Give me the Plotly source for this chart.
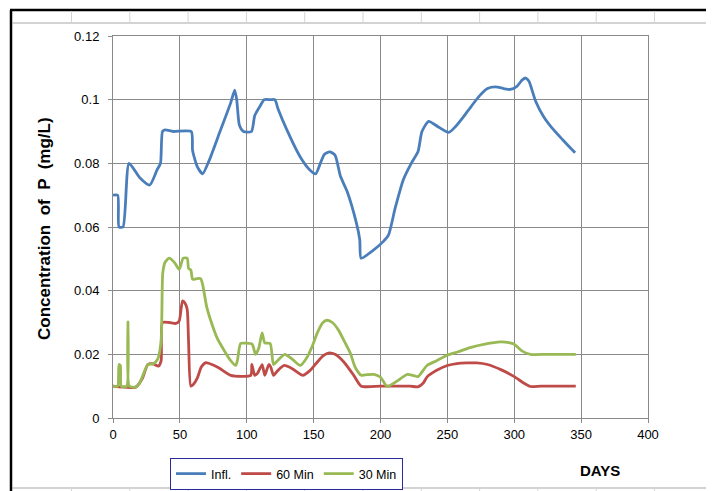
import plotly.graph_objects as go

# ---------------- data ----------------
infl_days = [0, 3.5, 4.5, 7.5, 12, 20, 27.5, 33, 35.5, 37, 39, 45, 58.5, 59.5, 63, 67, 72, 80, 88, 91,
             92.5, 94.5, 97.5, 103.5, 106, 110, 113, 118, 121, 123.5, 130, 140, 147, 151.5, 155, 158,
             162, 166, 170, 175, 182, 184.5, 185.5, 194, 202, 206, 211, 217, 223, 228, 231, 236, 243,
             251, 256, 262, 268, 274, 280, 286, 292, 297, 302, 306, 308.5, 311, 316, 322, 328, 336, 345.5]
infl_vals = [0.070, 0.070, 0.060, 0.060, 0.080, 0.0755, 0.0732, 0.078, 0.080, 0.090, 0.0905, 0.090,
             0.090, 0.084, 0.079, 0.0767, 0.081, 0.090, 0.099, 0.103, 0.100, 0.092, 0.090, 0.090,
             0.095, 0.098, 0.100, 0.100, 0.100, 0.097, 0.0905, 0.082, 0.078, 0.0767, 0.080, 0.0828,
             0.0836, 0.0826, 0.076, 0.0712, 0.0612, 0.0560, 0.0502, 0.0525, 0.0554, 0.0575, 0.066,
             0.0748, 0.080, 0.0836, 0.090, 0.0932, 0.0915, 0.0897, 0.0915, 0.0946, 0.098, 0.1012,
             0.1035, 0.1040, 0.1035, 0.1032, 0.1042, 0.1062, 0.1068, 0.1058, 0.0995, 0.0946, 0.0912,
             0.0875, 0.0833]

min60_days = [0, 17, 22, 26, 30, 34, 36, 37, 42, 47, 49.5, 52, 54, 55.5, 56.5, 58.2, 60, 63, 66, 69.5,
              74, 79, 88, 103, 103.8, 104.6, 106, 108, 111.5, 113.5, 116.5, 118, 120, 123, 128, 134,
              142, 147, 152, 157, 161, 166, 172.6, 180, 185.6, 200, 222, 228, 232, 235, 242, 250, 257,
              265, 272, 280, 290, 300, 307, 312, 320, 346]
min60_vals = [0.010, 0.0097, 0.0125, 0.0168, 0.017, 0.0163, 0.018, 0.030, 0.030, 0.0297, 0.0305,
              0.0368, 0.0360, 0.034, 0.024, 0.010, 0.0105, 0.0125, 0.016, 0.0174, 0.0168, 0.0158,
              0.0134, 0.0134, 0.0168, 0.0155, 0.0134, 0.014, 0.0168, 0.0134, 0.0168, 0.016, 0.0134,
              0.0148, 0.0165, 0.0155, 0.0134, 0.0148, 0.0172, 0.0195, 0.0204, 0.020, 0.0176, 0.0134,
              0.0100, 0.0100, 0.0100, 0.0098, 0.011, 0.013, 0.015, 0.0165, 0.0171, 0.0173, 0.0173,
              0.0168, 0.0152, 0.0130, 0.011, 0.0099, 0.0100, 0.0100]

min30_days = [0, 3.5, 4.5, 5.5, 6.2, 10.2, 11.2, 12.2, 16.9, 20, 26, 30, 33.5, 36, 37.2, 39, 42, 46,
              49.5, 52.5, 55.5, 56.5, 58.2, 59.5, 62, 65.5, 67, 70, 73, 78, 83, 88, 91.7, 93, 95.4, 99,
              104, 106.6, 109, 111.5, 113.5, 117.5, 120, 123, 128.4, 134, 140, 145, 148.7, 153, 157,
              160, 164, 168.6, 172.6, 177.6, 181, 185.6, 190, 195, 200, 205, 212, 220, 225, 228, 234.8,
              242, 249.8, 258, 267, 278, 289.6, 296, 300, 306, 312, 324, 346]
min30_vals = [0.010, 0.010, 0.0168, 0.0165, 0.010, 0.010, 0.0302, 0.0100, 0.0097, 0.011, 0.0168,
              0.017, 0.0186, 0.0244, 0.0455, 0.049, 0.0502, 0.0488, 0.0467, 0.0502, 0.0502, 0.0470,
              0.0465, 0.0436, 0.0437, 0.0438, 0.042, 0.035, 0.0307, 0.025, 0.0213, 0.018, 0.0165,
              0.018, 0.0234, 0.0235, 0.0232, 0.0200, 0.022, 0.0267, 0.0236, 0.0234, 0.0168, 0.018,
              0.0200, 0.0185, 0.0165, 0.019, 0.0223, 0.027, 0.030, 0.0307, 0.030, 0.0276, 0.0244,
              0.0202, 0.016, 0.0134, 0.0136, 0.0137, 0.0128, 0.0099, 0.0115, 0.0137, 0.0133, 0.0130,
              0.0165, 0.018, 0.0197, 0.0208, 0.0221, 0.0232, 0.0239, 0.0237, 0.0232, 0.021, 0.0200,
              0.0200, 0.0200]

series_names = ["Infl.", "60 Min", "30 Min"]
series_colors = ["#4A7EBB", "#BE4B48", "#98B954"]

x_range = [0, 400]
x_dtick = 50
y_range = [0, 0.12]
y_dtick = 0.02

# ---------------- figure ----------------
OFF = 8                      # page body margin of the browser
W, H = 714 - OFF, 491 - OFF
L, R, T, B = 113 - OFF, 66, 36 - OFF, 73
PW, PH = W - L - R, H - T - B


def px(x):
    """screen pixel x -> paper x"""
    return (x - OFF - L) / PW


def py(y):
    """screen pixel y -> paper y"""
    return (H - B - (y - OFF)) / PH


FONT = "Liberation Sans, Arial, sans-serif"

fig = go.Figure()
for name, color, xs, ys in zip(series_names, series_colors,
                               [infl_days, min60_days, min30_days],
                               [infl_vals, min60_vals, min30_vals]):
    fig.add_trace(go.Scatter(x=xs, y=ys, name=name, mode="lines",
                             line=dict(color=color, width=2.8, shape="spline", smoothing=0.6)))

grid = "#8a8a8a"
fig.update_xaxes(range=x_range, dtick=x_dtick, showgrid=True, gridcolor=grid, gridwidth=1,
                 showline=True, linecolor=grid, linewidth=1, mirror=True,
                 ticks="outside", ticklen=4, tickcolor=grid, zeroline=False,
                 tickfont=dict(family=FONT, size=13, color="#000"))
fig.update_yaxes(range=y_range, dtick=y_dtick, showgrid=True, gridcolor=grid, gridwidth=1,
                 showline=True, linecolor=grid, linewidth=1, mirror=True,
                 ticks="outside", ticklen=4, tickcolor=grid, zeroline=False,
                 ticklabelstandoff=6,
                 tickfont=dict(family=FONT, size=13, color="#000"))

# spreadsheet frame decorations
shapes = []
shapes.append(dict(type="line", xref="paper", yref="paper", x0=px(10), x1=px(714), y0=py(10), y1=py(10),
                   line=dict(color="#000", width=2.5)))
shapes.append(dict(type="line", xref="paper", yref="paper", x0=px(11), x1=px(11), y0=py(10), y1=py(491),
                   line=dict(color="#000", width=2.5)))
shapes.append(dict(type="line", xref="paper", yref="paper", x0=px(12), x1=px(714), y0=py(23), y1=py(23),
                   line=dict(color="#a8a8a8", width=1.2)))
shapes.append(dict(type="line", xref="paper", yref="paper", x0=px(12), x1=px(714), y0=py(488), y1=py(488),
                   line=dict(color="#a8a8a8", width=1.2)))
for k in range(12):
    cx = 71.5 + 58.3 * k
    shapes.append(dict(type="line", xref="paper", yref="paper", x0=px(cx), x1=px(cx), y0=py(11), y1=py(23),
                       line=dict(color="#d4d4d4", width=1)))
    shapes.append(dict(type="line", xref="paper", yref="paper", x0=px(cx), x1=px(cx), y0=py(488), y1=py(491),
                       line=dict(color="#d4d4d4", width=1)))

annotations = [
    dict(text="<b>Concentration  of  P  (mg/L)</b>", xref="paper", yref="paper",
         x=px(45), y=py(229), textangle=-90, showarrow=False, xanchor="center", yanchor="middle",
         font=dict(family=FONT, size=17, color="#000")),
    dict(text="<b>DAYS</b>", xref="paper", yref="paper", x=px(600), y=py(470),
         showarrow=False, xanchor="center", yanchor="middle",
         font=dict(family=FONT, size=15, color="#000")),
]

fig.update_layout(
    width=W, height=H, autosize=False,
    margin=dict(l=L, r=R, t=T, b=B, pad=0, autoexpand=False),
    paper_bgcolor="white", plot_bgcolor="white",
    font=dict(family=FONT, size=13, color="#000"),
    shapes=shapes, annotations=annotations,
    showlegend=True,
    legend=dict(orientation="h", x=px(170), y=py(458), xanchor="left", yanchor="top",
                bordercolor="#2b2b9a", borderwidth=1, bgcolor="white",
                font=dict(family=FONT, size=12.5, color="#000"),
                itemwidth=30, tracegroupgap=0),
)

fig.write_html("out.html")
